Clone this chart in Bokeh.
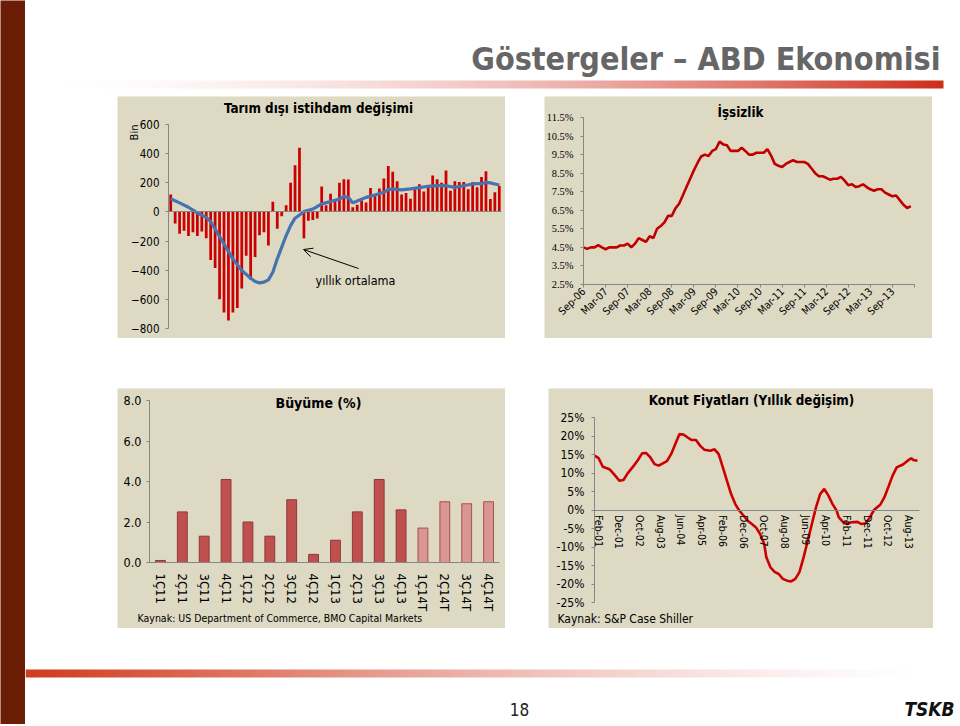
import math
import numpy as np
from bokeh.plotting import figure
from bokeh.layouts import row, column
from bokeh.models import (Range1d, Label, Arrow, OpenHead, FixedTicker, Spacer,
                          ColumnDataSource, PrintfTickFormatter)
from bokeh.embed import file_html
from bokeh.resources import INLINE

# ---------------- data ----------------
# Tarım dışı istihdam değişimi (bin kişi), aylık (Ara-07 .. Şub-14)
nfp_change = [120, -80, -150, -130, -165, -140, -165, -135, -180, -330,
              -385, -600, -690, -745, -690, -660, -525, -300, -465, -310,
              -160, -140, -230, 70, -115, -30, 45, 200, 320, 440,
              -180, -60, -55, -45, 175, 45, 125, 75, 200, 225,
              222, 32, 50, 78, 65, 165, 110, 160, 230, 315,
              275, 210, 120, 130, 90, 160, 190, 140, 175, 250,
              225, 200, 285, 145, 210, 205, 205, 155, 205, 170,
              240, 280, 88, 135, 180]
# yıllık ortalama (read at selected months)
nfp_avg_idx = [0, 2, 4, 6, 8, 9, 10, 12, 14, 16, 18, 19, 20, 21, 22, 23, 24, 25,
               26, 27, 28, 29, 30, 32, 34, 36, 38, 39, 40, 41, 42, 44, 46, 48,
               49, 50, 52, 54, 56, 58, 60, 62, 64, 66, 68, 70, 71, 72, 73, 74]
nfp_avg = [90, 62, 32, -7, -37, -66, -117, -220, -322, -402, -455, -478, -487,
           -482, -466, -414, -322, -242, -162, -94, -43, -21, 2, 20, 55, 71, 89,
           105, 100, 62, 75, 100, 116, 135, 153, 158, 151, 158, 167, 176, 180,
           180, 169, 180, 192, 194, 203, 199, 192, 185]
nfp_ticks = [-800, -600, -400, -200, 0, 200, 400, 600]

# İşsizlik (%), aylık Eyl-06 ..
unemp = [4.5, 4.42, 4.5, 4.5, 4.62, 4.5, 4.4, 4.5, 4.5, 4.5,
         4.6, 4.6, 4.7, 4.5, 4.7, 5.0, 4.9, 4.8, 5.1, 5.0,
         5.5, 5.65, 5.85, 6.2, 6.2, 6.6, 6.85, 7.3, 7.75, 8.2,
         8.65, 9.05, 9.4, 9.5, 9.42, 9.7, 9.8, 10.2, 10.05, 10.0,
         9.7, 9.7, 9.7, 9.87, 9.7, 9.5, 9.5, 9.6, 9.6, 9.6,
         9.8, 9.45, 9.0, 8.9, 8.83, 9.0, 9.1, 9.2, 9.1, 9.1,
         9.1, 9.0, 8.75, 8.5, 8.33, 8.33, 8.25, 8.15, 8.2, 8.2,
         8.3, 8.1, 7.85, 7.9, 7.75, 7.8, 7.9, 7.75, 7.63, 7.55,
         7.63, 7.63, 7.45, 7.35, 7.25, 7.3, 7.05, 6.8, 6.62, 6.72]
unemp_tick_pos = [0, 6, 12, 18, 24, 30, 36, 42, 48, 54, 60, 66, 72, 78, 84, 90]
unemp_tick_labels = ["Sep-06", "Mar-07", "Sep-07", "Mar-08", "Sep-08", "Mar-09",
                     "Sep-09", "Mar-10", "Sep-10", "Mar-11", "Sep-11", "Mar-12",
                     "Sep-12", "Mar-13", "Sep-13", ""]
unemp_ticks = [2.5, 3.5, 4.5, 5.5, 6.5, 7.5, 8.5, 9.5, 10.5, 11.5]

# Büyüme (%)
gdp_quarters = ["1Ç11", "2Ç11", "3Ç11", "4Ç11", "1Ç12", "2Ç12", "3Ç12", "4Ç12",
                "1Ç13", "2Ç13", "3Ç13", "4Ç13", "1Ç14T", "2Ç14T", "3Ç14T", "4Ç14T"]
gdp_growth = [0.1, 2.5, 1.3, 4.1, 2.0, 1.3, 3.1, 0.4, 1.1, 2.5, 4.1, 2.6,
              1.7, 3.0, 2.9, 3.0]
gdp_ticks = [0, 2, 4, 6, 8]

# Konut fiyatları (yıllık değişim, %), month index from Ara-00
hp_month = [0, 2, 4, 7, 8, 10, 12, 14, 16, 19, 21, 23, 25, 27, 29, 31, 33, 35, 37, 39,
            41, 43, 45, 47, 49, 51, 53, 56, 58, 60, 62, 64, 66, 68, 70, 72, 74, 76, 78, 80,
            82, 83, 85, 87, 89, 91, 93, 95, 97, 99, 101, 103, 105, 107, 109, 111, 113, 115,
            117, 118, 120, 122, 124, 127, 129, 131, 133, 135, 138, 140, 142, 144, 146, 149,
            151, 153, 154, 156]
hp_yoy = [14.7, 14.0, 11.7, 11.1, 10.6, 9.3, 7.9, 8.1, 9.9, 12.0,
          13.5, 15.3, 15.4, 14.2, 12.4, 12.0, 12.6, 13.2, 15.1, 17.8,
          20.5, 20.4, 19.6, 18.9, 18.9, 17.4, 16.3, 16.0, 16.4, 15.1,
          11.5, 7.9, 4.3, 1.6, -0.2, -1.5, -2.9, -3.8, -4.7, -6.5,
          -9.2, -12.8, -15.5, -16.7, -17.3, -18.6, -19.1, -19.3, -18.6, -16.8,
          -12.8, -8.3, -3.8, 0.7, 4.3, 5.7, 3.9, 1.6, -0.2, -2.0,
          -3.2, -3.8, -3.3, -3.2, -3.8, -3.6, -2.0, 0.0, 1.4, 3.4,
          6.3, 9.3, 11.5, 12.3, 13.2, 14.0, 13.5, 13.3]
hp_tick_pos = [2, 12, 22, 32, 42, 52, 62, 72, 82, 92, 102, 112, 122, 132, 142, 152]
hp_tick_labels = ["Feb-01", "Dec-01", "Oct-02", "Aug-03", "Jun-04", "Apr-05", "Feb-06",
                  "Dec-06", "Oct-07", "Aug-08", "Jun-09", "Apr-10", "Feb-11", "Dec-11",
                  "Oct-12", "Aug-13"]
hp_ticks = [-25, -20, -15, -10, -5, 0, 5, 10, 15, 20, 25]

# ---------------- style ----------------
BEIGE = "#DDD9C3"
AXIS = "#868686"
SANS = "DejaVu Sans Condensed"


def span_range(lo_px, hi_px, total_px, v0, v1):
    """Range whose [v0, v1] part lands between pixel lo_px and hi_px of the panel."""
    s = (v1 - v0) / (hi_px - lo_px)
    return Range1d(v0 - lo_px * s, v1 + (total_px - hi_px) * s)


def panel(w, h, box, xdom, ydom):
    L, R, T, B = box
    xr = span_range(L, R, w, *xdom)
    yr = span_range(h - B, h - T, h, *ydom)
    p = figure(width=w, height=h, x_range=xr, y_range=yr, toolbar_location=None,
               output_backend="svg", title=None, min_border=0)
    p.background_fill_color = BEIGE
    p.border_fill_color = BEIGE
    p.outline_line_color = None
    p.xgrid.grid_line_color = None
    p.ygrid.grid_line_color = None
    p.xaxis.fixed_location = ydom[0]
    p.xaxis.bounds = xdom
    p.yaxis.fixed_location = xdom[0]
    p.yaxis.bounds = ydom
    return p


def style_axis(ax, size, font=SANS):
    ax.axis_line_color = AXIS
    ax.major_tick_line_color = AXIS
    ax.minor_tick_line_color = None
    ax.major_tick_out = 3
    ax.major_tick_in = 0
    ax.major_label_text_font = font
    ax.major_label_text_font_size = size
    ax.major_label_text_color = "black"


def lab(p, text, x, y_top, size, bold=False, align="center", angle=0, font=SANS):
    # x, y_top: pixels from the panel's top-left corner
    p.add_layout(Label(text=text, x=x, y=p.height - y_top, x_units="screen",
                       y_units="screen", text_font=font, text_font_size=size,
                       text_font_style="bold" if bold else "normal",
                       text_align=align, text_baseline="middle", text_color="black",
                       angle=angle, angle_units="deg"))


# ---------------- chart 1: Tarım dışı istihdam ----------------
n1 = len(nfp_change)
p1 = panel(388, 242, (51, 384, 28, 232), (-0.5, n1 - 0.5), (-800, 600))
p1.vbar(x=list(range(n1)), top=nfp_change, width=0.62, fill_color="#CC0000",
        line_color=None)
p1.line(nfp_avg_idx, nfp_avg, line_color="#4672B0", line_width=3.2)
p1.xaxis.fixed_location = 0
p1.xaxis.ticker = FixedTicker(ticks=[])
style_axis(p1.xaxis, "0px")
p1.xaxis.major_tick_out = 0
p1.yaxis.ticker = FixedTicker(ticks=nfp_ticks)
style_axis(p1.yaxis, "11.5px")
p1.yaxis.major_label_standoff = 6
lab(p1, "Tarım dışı istihdam değişimi", 201, 12, "13.3px", bold=True)
lab(p1, "Bin", 17, 36, "11px", angle=90)
lab(p1, "yıllık ortalama", 238, 184, "12.5px")
p1.add_layout(Arrow(end=OpenHead(size=9, line_width=1, line_color="black"),
                    x_start=241, y_start=242 - 172, x_end=186, y_end=242 - 153,
                    start_units="screen", end_units="screen",
                    line_width=1, line_color="black"))

# ---------------- chart 2: İşsizlik ----------------
p2 = panel(388, 242, (39, 370, 21, 188), (0, 90), (2.5, 11.5))
p2.line(list(range(len(unemp))), unemp, line_color="#C00000", line_width=2.6)
p2.yaxis.ticker = FixedTicker(ticks=unemp_ticks)
p2.yaxis.formatter = PrintfTickFormatter(format="%.1f%%")
style_axis(p2.yaxis, "10.5px", font="Liberation Serif")
p2.yaxis.major_label_standoff = 7
p2.xaxis.ticker = FixedTicker(ticks=unemp_tick_pos)
p2.xaxis.major_label_overrides = dict(zip(unemp_tick_pos, unemp_tick_labels))
p2.xaxis.major_label_orientation = math.pi / 4
style_axis(p2.xaxis, "10.5px")
p2.xaxis.major_label_standoff = 2
lab(p2, "İşsizlik", 196, 16, "13.3px", bold=True)

# ---------------- chart 3: Büyüme ----------------
fills = ["#D99694" if q.endswith("T") else "#C0504D" for q in gdp_quarters]
lines = ["#A9504E" if q.endswith("T") else "#8C3A38" for q in gdp_quarters]
qpos = list(range(len(gdp_quarters)))
src3 = ColumnDataSource(dict(x=qpos, g=gdp_growth, f=fills, l=lines))
p3 = panel(388, 240, (32, 382, 12, 174), (-0.5, len(gdp_quarters) - 0.5), (0, 8))
p3.vbar(x="x", top="g", width=0.45, fill_color="f", line_color="l", line_width=1,
        source=src3)
p3.yaxis.ticker = FixedTicker(ticks=gdp_ticks)
p3.yaxis.formatter = PrintfTickFormatter(format="%.1f")
style_axis(p3.yaxis, "12.5px")
p3.yaxis.major_label_standoff = 5
p3.xaxis.ticker = FixedTicker(ticks=qpos)
p3.xaxis.major_label_overrides = dict(zip(qpos, gdp_quarters))
style_axis(p3.xaxis, "13px")
p3.xaxis.major_tick_out = 0
p3.xaxis.major_label_orientation = "vertical"
p3.xaxis.major_label_standoff = 11
lab(p3, "Büyüme (%)", 201, 14, "14px", bold=True)
lab(p3, "Kaynak: US Department of Commerce, BMO Capital Markets", 20, 229, "10.5px",
    align="left")

# ---------------- chart 4: Konut fiyatları ----------------
p4 = panel(385, 240, (46, 371, 29, 214), (0, 157), (-25, 25))
p4.line(hp_month, hp_yoy, line_color="#CC0000", line_width=2.6)
p4.yaxis.ticker = FixedTicker(ticks=hp_ticks)
p4.yaxis.formatter = PrintfTickFormatter(format="%d%%")
style_axis(p4.yaxis, "12px")
p4.yaxis.major_label_standoff = 7
p4.xaxis.fixed_location = 0
p4.xaxis.ticker = FixedTicker(ticks=hp_tick_pos)
p4.xaxis.major_label_overrides = dict(zip(hp_tick_pos, hp_tick_labels))
p4.xaxis.major_label_orientation = "vertical"
style_axis(p4.xaxis, "10.5px")
p4.xaxis.major_tick_out = 0
p4.xaxis.major_label_standoff = 5
lab(p4, "Konut Fiyatları (Yıllık değişim)", 203, 12, "13.3px", bold=True)
lab(p4, "Kaynak: S&P Case Shiller", 9, 230, "12px", align="left")


# ---------------- slide decoration ----------------
def gradient(n, c0, c1, a0, a1):
    img = np.empty((1, n), dtype=np.uint32)
    v = img.view(dtype=np.uint8).reshape((1, n, 4))
    t = np.linspace(0, 1, n)
    for k in range(3):
        v[0, :, k] = (c0[k] + (c1[k] - c0[k]) * t).astype(np.uint8)
    v[0, :, 3] = (a0 + (a1 - a0) * t ** 1.3).astype(np.uint8)
    return img


def deco_fig(w, h):
    p = figure(width=w, height=h, x_range=Range1d(0, w), y_range=Range1d(h, 0),
               toolbar_location=None, output_backend="svg", title=None,
               x_axis_location=None, y_axis_location=None, min_border=0)
    p.outline_line_color = None
    p.xgrid.grid_line_color = None
    p.ygrid.grid_line_color = None
    p.background_fill_color = "white"
    p.border_fill_color = "white"
    return p


hdr = deco_fig(933, 96)
hdr.image_rgba(image=[gradient(400, (235, 170, 170), (205, 45, 25), 0, 255)],
               x=15, y=80, dw=903, dh=8)
hdr.add_layout(Label(text="Göstergeler – ABD Ekonomisi", x=915, y=58,
                     text_font="DejaVu Sans Condensed", text_font_size="32px",
                     text_font_style="bold", text_color="#666666",
                     text_align="right", text_baseline="middle"))

ftr = deco_fig(933, 96)
ftr.image_rgba(image=[gradient(400, (210, 60, 30), (240, 190, 190), 255, 0)],
               x=0, y=41, dw=890, dh=8)
ftr.add_layout(Label(text="18", x=494, y=81, text_font="DejaVu Sans Condensed",
                     text_font_size="17px", text_color="#222222",
                     text_align="center", text_baseline="middle"))
ftr.add_layout(Label(text="TSKB", x=904, y=80, text_font="DejaVu Sans Condensed",
                     text_font_size="19px", text_font_style="bold italic",
                     text_color="#111111", text_align="center", text_baseline="middle"))

stripe = figure(width=25, height=724, toolbar_location=None, output_backend="svg",
                title=None, x_axis_location=None, y_axis_location=None, min_border=0)
stripe.outline_line_color = None
stripe.background_fill_color = "#6B1D05"
stripe.border_fill_color = "#6B1D05"
stripe.xgrid.grid_line_color = None
stripe.ygrid.grid_line_color = None

row1 = row(Spacer(width=92, height=242), p1, Spacer(width=39, height=242), p2)
row2 = row(Spacer(width=92, height=240), p3, Spacer(width=43, height=240), p4)
page = row(stripe, column(hdr, row1, Spacer(width=933, height=50), row2, ftr))

open("out.html", "w").write(file_html(page, INLINE))
